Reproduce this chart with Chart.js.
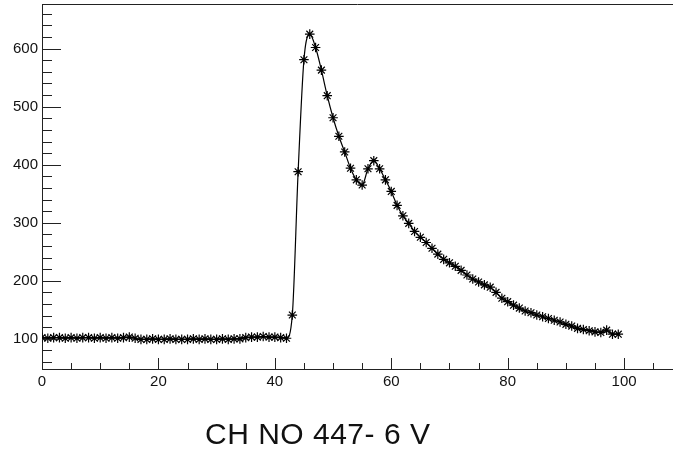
<!DOCTYPE html>
<html>
<head>
<meta charset="utf-8">
<script src="https://cdn.jsdelivr.net/npm/chart.js"></script>
<style>
  body { margin: 0; background: #fff; }
  #wrap { position: relative; width: 673px; height: 453px; }
  #graph { position: absolute; left: 0; top: 0; }
  #caption {
    position: absolute; left: 205px; top: 419px;
    font: 30px "Liberation Sans", Arial, sans-serif; line-height: 30px;
    letter-spacing: 0.5px; color: #111; white-space: nowrap;
  }
</style>
</head>
<body>
<div id="wrap">
  <canvas id="graph" width="673" height="453"></canvas>
  <div id="caption">CH NO 447- 6 V</div>
</div>
<script>
// channel numbers (x) and counts (y)
const channels = [
   0,  1,  2,  3,  4,  5,  6,  7,  8,  9, 10, 11, 12, 13, 14, 15, 16, 17, 18, 19,
  20, 21, 22, 23, 24, 25, 26, 27, 28, 29, 30, 31, 32, 33, 34, 35, 36, 37, 38, 39,
  40, 41, 42, 43, 44, 45, 46, 47, 48, 49, 50, 51, 52, 53, 54, 55, 56, 57, 58, 59,
  60, 61, 62, 63, 64, 65, 66, 67, 68, 69, 70, 71, 72, 73, 74, 75, 76, 77, 78, 79,
  80, 81, 82, 83, 84, 85, 86, 87, 88, 89, 90, 91, 92, 93, 94, 95, 96, 97, 98, 99
];
const counts = [
  102, 101, 102, 102, 101, 102, 101, 102, 102, 101, 102, 101, 102, 101, 102, 103, 101,  99,  99, 100,
   99,  99, 100,  99,  99,  99, 100,  99, 100,  99,  99, 100,  99, 100, 100, 102, 103, 103, 104, 103,
  103, 102, 101, 141, 388, 581, 625, 602, 563, 519, 481, 449, 422, 394, 374, 365, 393, 407, 393, 374,
  354, 330, 312, 299, 285, 275, 266, 256, 246, 237, 231, 225, 218, 210, 203, 198, 193, 189, 180, 170,
  164, 158, 153, 148, 145, 141, 138, 135, 132, 129, 125, 122, 118, 116, 114, 112, 111, 115, 108, 108
];

const xLabels = [0, 20, 40, 60, 80, 100];
const yLabels = [100, 200, 300, 400, 500, 600];
const xRange = [0, 108.4];
const yRange = [48, 677];

const axisColor = '#222';
const font = { family: '"Liberation Sans", Arial, sans-serif', size: 15 };

// frame on top plus inward tick marks, the way the old analysis plots look
const frameTicks = {
  id: 'frameTicks',
  afterDatasetsDraw(chart) {
    const { ctx, chartArea: a, scales: { x, y } } = chart;
    ctx.save();
    ctx.strokeStyle = axisColor;
    ctx.lineWidth = 1;
    ctx.beginPath();
    ctx.moveTo(a.left, Math.round(a.top) + 0.5);
    ctx.lineTo(a.right, Math.round(a.top) + 0.5);
    for (let v = xRange[0]; v <= xRange[1]; v += 5) {
      const px = Math.round(x.getPixelForValue(v)) + 0.5;
      const len = v % 20 === 0 ? 11 : 6;
      ctx.moveTo(px, a.bottom);
      ctx.lineTo(px, a.bottom - len);
    }
    for (let v = 60; v <= yRange[1]; v += 20) {
      const py = Math.round(y.getPixelForValue(v)) + 0.5;
      const len = v % 100 === 0 ? 19 : 10;
      ctx.moveTo(a.left, py);
      ctx.lineTo(a.left + len, py);
    }
    ctx.stroke();
    ctx.restore();
  }
};

new Chart(document.getElementById('graph'), {
  type: 'line',
  data: {
    datasets: [{
      data: channels.map((c, i) => ({ x: c, y: counts[i] })),
      borderColor: '#000',
      borderWidth: 1.2,
      cubicInterpolationMode: 'monotone',
      pointStyle: 'star',
      pointRadius: 4.8,
      pointBorderWidth: 1.2,
      pointBorderColor: '#000',
      pointBackgroundColor: '#000'
    }]
  },
  options: {
    responsive: false,
    devicePixelRatio: 1,
    animation: false,
    layout: { autoPadding: false, padding: { top: 4, right: 0, bottom: 54, left: 0 } },
    plugins: { legend: { display: false }, tooltip: { enabled: false } },
    scales: {
      x: {
        type: 'linear',
        min: xRange[0],
        max: xRange[1],
        afterBuildTicks: s => { s.ticks = xLabels.map(v => ({ value: v })); },
        afterFit: s => { s.height = 30; s.paddingLeft = 0; s.paddingRight = 0; },
        grid: { drawOnChartArea: false, drawTicks: false },
        border: { display: true, color: axisColor, width: 1 },
        ticks: { color: '#111', font, padding: 4, maxRotation: 0, autoSkip: false }
      },
      y: {
        type: 'linear',
        min: yRange[0],
        max: yRange[1],
        afterBuildTicks: s => { s.ticks = yLabels.map(v => ({ value: v })); },
        afterFit: s => { s.width = 42; s.paddingTop = 0; s.paddingBottom = 0; },
        grid: { drawOnChartArea: false, drawTicks: false },
        border: { display: true, color: axisColor, width: 1 },
        ticks: { color: '#111', font, padding: 4 }
      }
    }
  },
  plugins: [frameTicks]
});
</script>
</body>
</html>
